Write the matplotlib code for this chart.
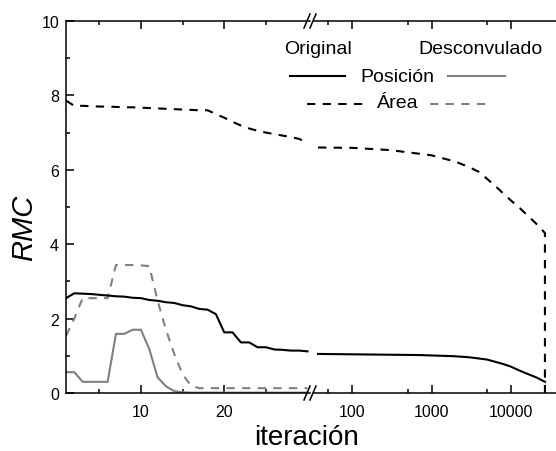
import numpy as np
import matplotlib
matplotlib.use("Agg")
import matplotlib.pyplot as plt
from matplotlib.lines import Line2D
from matplotlib.ticker import FixedLocator, NullFormatter, FixedFormatter

plt.rcParams['font.family'] = ['Liberation Sans', 'DejaVu Sans']

# --- data: linear part (iterations 1..30) ---
iter_left = np.arange(1, 31)
orig_pos_left = [2.55, 2.68, 2.67, 2.66, 2.64, 2.62, 2.60, 2.59, 2.56, 2.55,
                 2.50, 2.48, 2.44, 2.42, 2.36, 2.33, 2.26, 2.24, 2.12, 1.63,
                 1.63, 1.36, 1.36, 1.23, 1.23, 1.17, 1.16, 1.14, 1.14, 1.12]
orig_area_left = [7.86, 7.72, 7.72, 7.71, 7.70, 7.70, 7.69, 7.68, 7.68, 7.67,
                  7.66, 7.65, 7.64, 7.63, 7.62, 7.61, 7.60, 7.60, 7.50, 7.40,
                  7.29, 7.19, 7.11, 7.05, 7.00, 6.96, 6.92, 6.88, 6.83, 6.72]
dec_pos_left = [0.56, 0.56, 0.30, 0.30, 0.30, 0.30, 1.59, 1.59, 1.70, 1.70,
                1.18, 0.42, 0.18, 0.05, 0.02, 0.01, 0.01, 0.01, 0.01, 0.01,
                0.01, 0.01, 0.01, 0.01, 0.01, 0.01, 0.01, 0.01, 0.01, 0.01]
dec_area_left = [1.54, 2.00, 2.55, 2.55, 2.55, 2.55, 3.44, 3.44, 3.44, 3.43,
                 3.41, 2.48, 1.70, 1.05, 0.50, 0.20, 0.13, 0.13, 0.13, 0.13,
                 0.13, 0.13, 0.13, 0.13, 0.13, 0.13, 0.13, 0.13, 0.13, 0.13]

# --- data: log part ---
iter_pos_right = [37, 100, 700, 1900, 3000, 5000, 8000, 10000, 13000, 16000, 21000, 27000]
orig_pos_right = [1.05, 1.04, 1.02, 0.99, 0.96, 0.90, 0.78, 0.71, 0.60, 0.52, 0.42, 0.30]
iter_area_right = [37, 100, 300, 1000, 2000, 3000, 4000, 5000, 6500, 8000, 10000,
                   13000, 17500, 21000, 25000, 27000, 27000]
orig_area_right = [6.60, 6.59, 6.53, 6.39, 6.22, 6.07, 5.94, 5.76, 5.55, 5.37, 5.18,
                   4.97, 4.71, 4.55, 4.38, 4.30, 0.0]

W, H = 556, 452
fig = plt.figure(figsize=(W / 100, H / 100), dpi=100)


def fx(px):
    return px / W


def fy(py):
    return 1 - py / H


y_bot, y_top = 394, 22
ax1 = fig.add_axes([fx(66), fy(y_bot), fx(310 - 66), (y_bot - y_top) / H])
ax2 = fig.add_axes([fx(314), fy(y_bot), fx(556 - 314), (y_bot - y_top) / H])

lw = 1.5
dash = (0, (4, 3.5))
gray = '#808080'

ax1.plot(iter_left, orig_area_left, color='black', lw=lw, ls=dash)
ax1.plot(iter_left, dec_area_left, color=gray, lw=lw, ls=dash)
ax1.plot(iter_left, orig_pos_left, color='black', lw=lw)
ax1.plot(iter_left, dec_pos_left, color=gray, lw=lw)

ax2.plot(iter_area_right, orig_area_right, color='black', lw=lw, ls=dash, clip_on=False)
ax2.plot(iter_pos_right, orig_pos_right, color='black', lw=lw)

# axes limits / scales
ax1.set_xlim(1, 30.3)
ax1.set_ylim(0, 10)
ax2.set_xscale('log')
ax2.set_xlim(32.9, 37250)
ax2.set_ylim(0, 10)

# ticks
ax1.xaxis.set_major_locator(FixedLocator([10, 20]))
ax1.xaxis.set_minor_locator(FixedLocator([5, 15, 25]))
ax1.yaxis.set_major_locator(FixedLocator([0, 2, 4, 6, 8, 10]))
ax1.yaxis.set_minor_locator(FixedLocator([1, 3, 5, 7, 9]))
ax1.tick_params(which='both', direction='in', top=True, right=False, width=1.1,
                labelsize=11.5)
ax1.tick_params(which='major', length=5.5)
ax1.tick_params(which='minor', length=3)
ax1.tick_params(axis='x', pad=8)
ax1.tick_params(axis='y', pad=5)

ax2.xaxis.set_major_locator(FixedLocator([100, 1000, 10000]))
ax2.xaxis.set_major_formatter(FixedFormatter(['100', '1000', '10000']))
ax2.xaxis.set_minor_locator(FixedLocator([50, 500, 5000]))
ax2.xaxis.set_minor_formatter(NullFormatter())
ax2.tick_params(which='both', direction='in', top=True, width=1.1, labelsize=11.5)
ax2.tick_params(which='major', length=5.5)
ax2.tick_params(which='minor', length=3)
ax2.tick_params(axis='x', pad=8)
ax2.tick_params(axis='y', left=False, right=False, labelleft=False)

for sp in ax1.spines.values():
    sp.set_linewidth(1.1)
for sp in ax2.spines.values():
    sp.set_linewidth(1.1)
ax1.spines['right'].set_visible(False)
ax2.spines['left'].set_visible(False)
ax2.spines['right'].set_visible(False)

# axis labels
fig.text(fx(24), fy(228), 'RMC', rotation=90, fontsize=21, style='italic',
         ha='center', va='center')
fig.text(fx(307), fy(438), 'iteración', fontsize=20, ha='center', va='center')

# break marks
for yb in (y_top, y_bot):
    for x0 in (304, 310):
        fig.add_artist(Line2D([fx(x0), fx(x0 + 6)], [fy(yb + 7), fy(yb - 7)],
                              color='black', lw=1.1, transform=fig.transFigure))

# legend
fs = 14
fig.text(fx(318), fy(50), 'Original', fontsize=fs, ha='center', va='center')
fig.text(fx(481), fy(50), 'Desconvulado', fontsize=fs, ha='center', va='center')
fig.text(fx(397), fy(78), 'Posición', fontsize=fs, ha='center', va='center')
fig.text(fx(398), fy(104), 'Área', fontsize=fs, ha='center', va='center')
fig.add_artist(Line2D([fx(290), fx(345)], [fy(77), fy(77)], color='black', lw=lw,
                      transform=fig.transFigure))
fig.add_artist(Line2D([fx(448), fx(505)], [fy(77), fy(77)], color=gray, lw=lw,
                      transform=fig.transFigure))
fig.add_artist(Line2D([fx(307), fx(367)], [fy(105), fy(105)], color='black', lw=lw,
                      ls=dash, transform=fig.transFigure))
fig.add_artist(Line2D([fx(430), fx(487)], [fy(105), fy(105)], color=gray, lw=lw,
                      ls=dash, transform=fig.transFigure))

fig.savefig('out.png', dpi=100)
